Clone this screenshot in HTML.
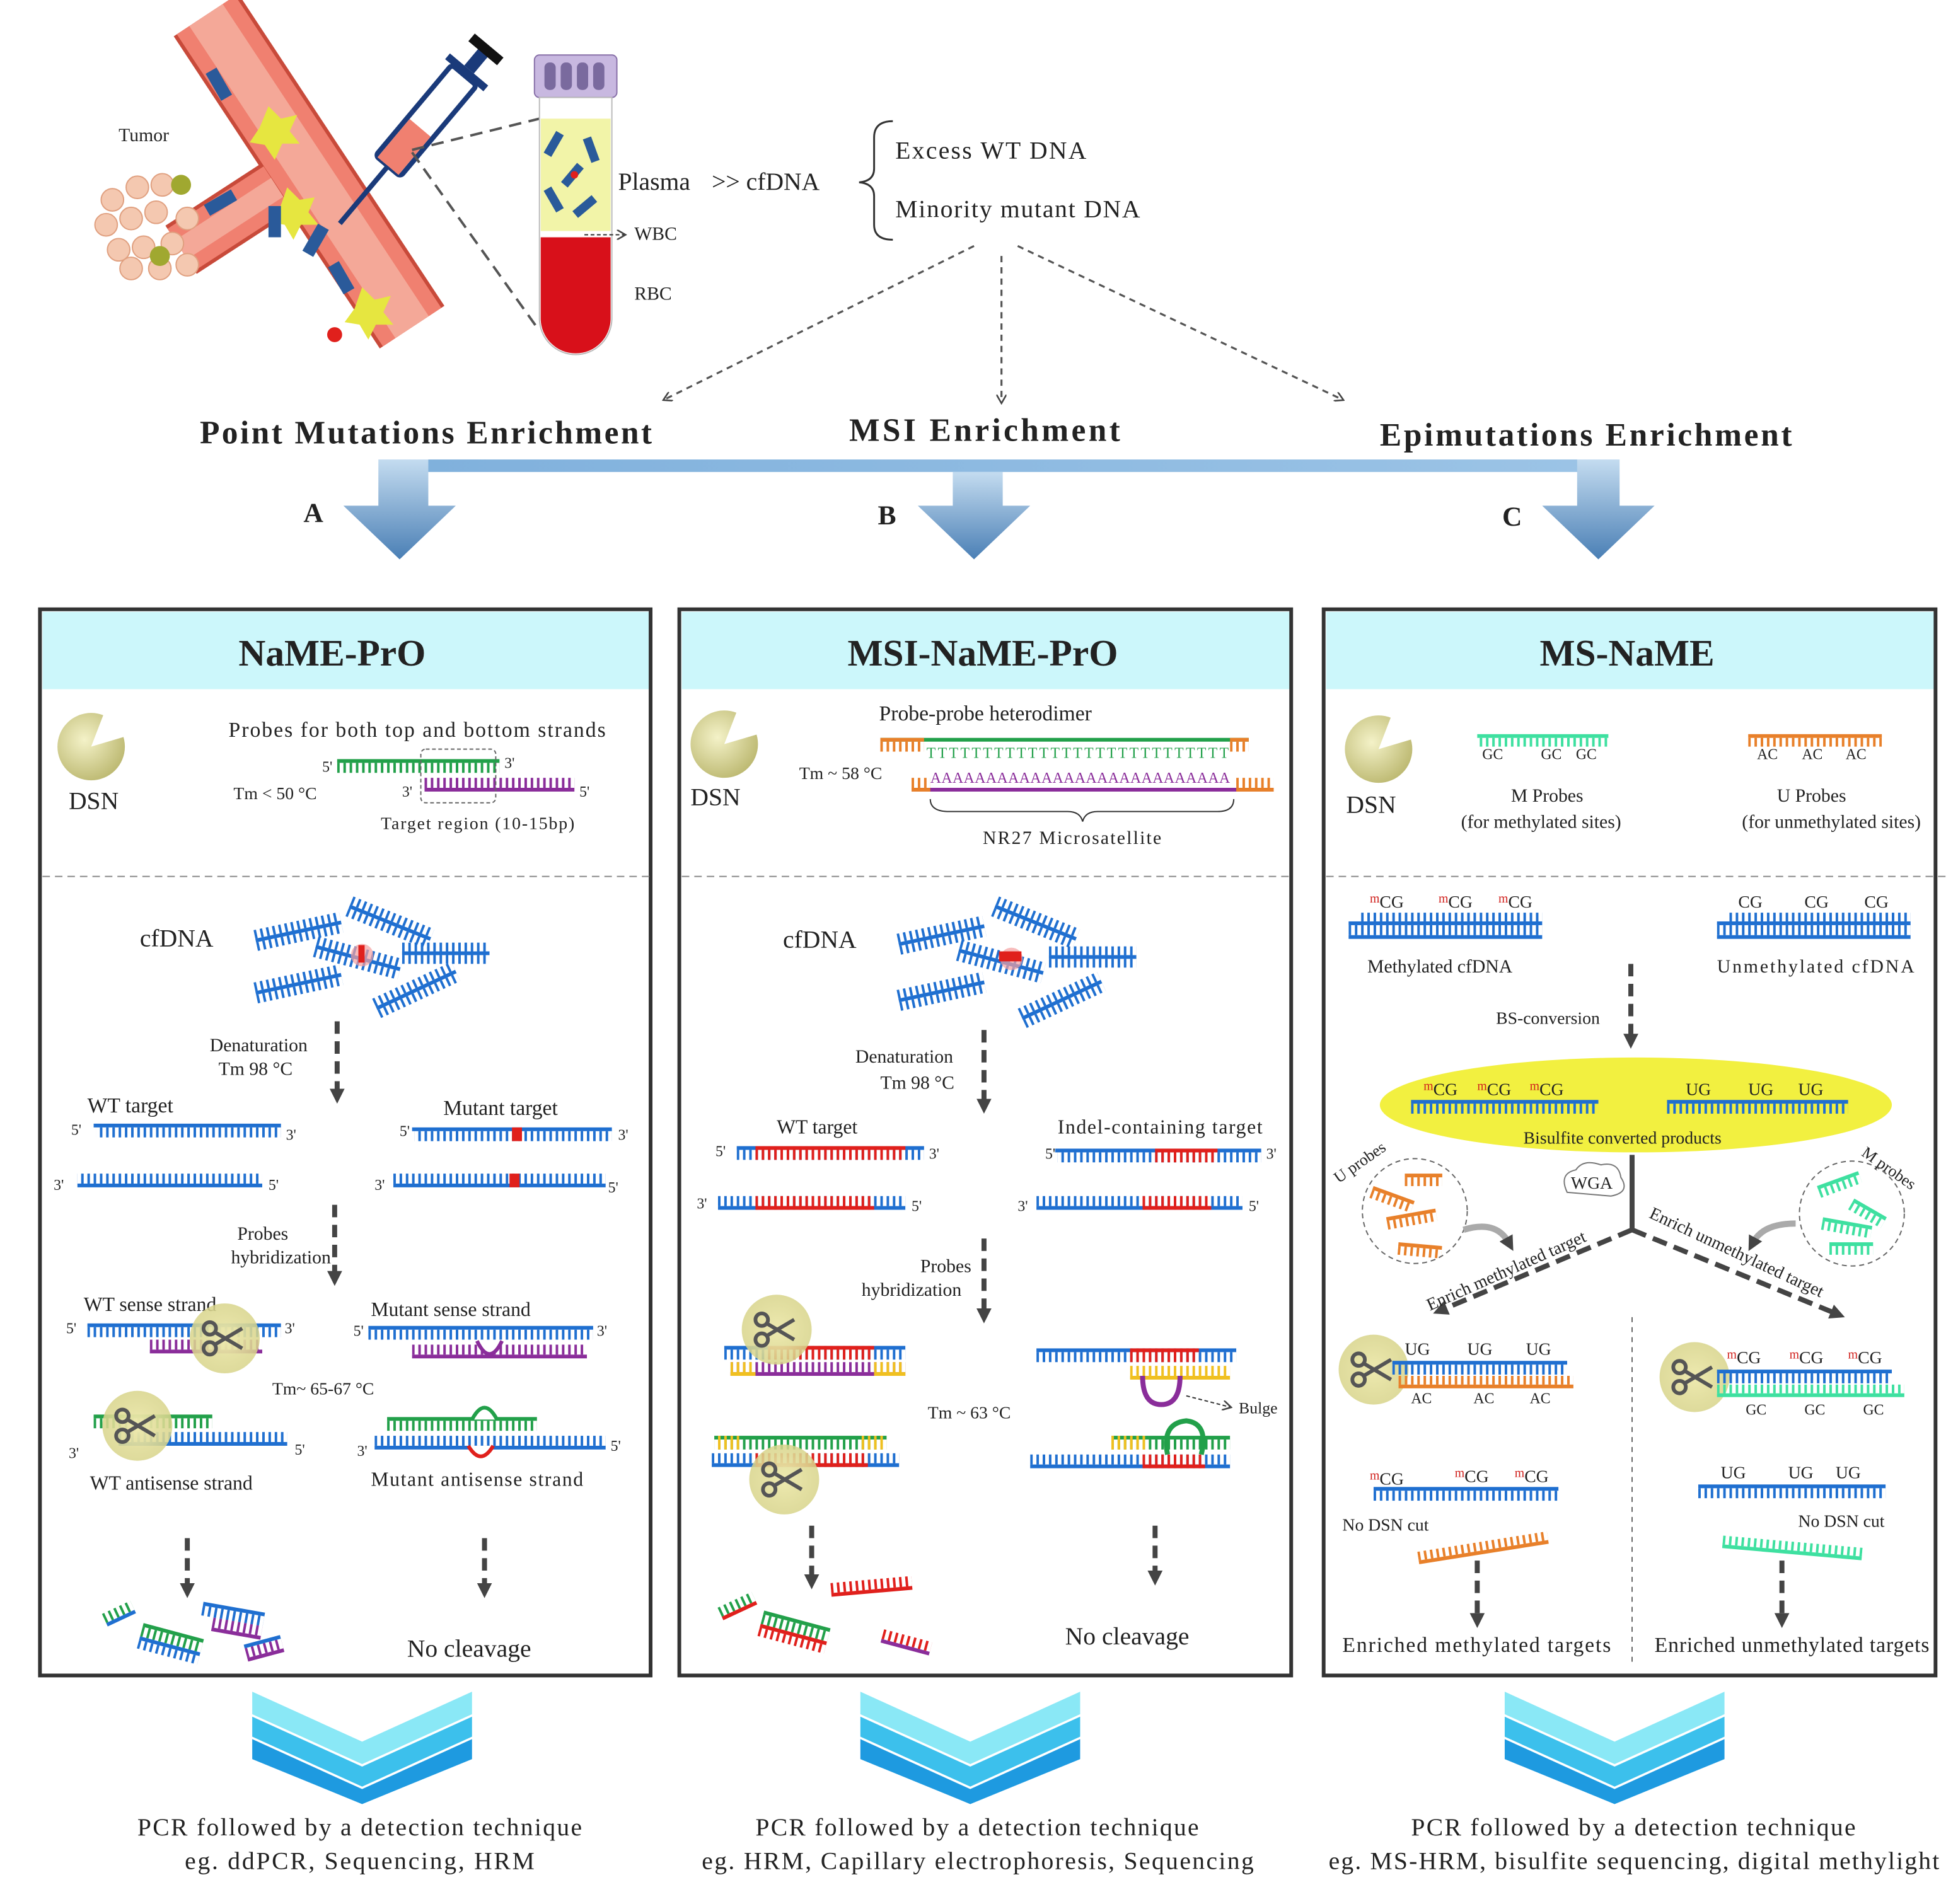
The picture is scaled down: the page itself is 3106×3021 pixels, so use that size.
<!DOCTYPE html>
<html><head><meta charset="utf-8"><style>
html,body{margin:0;padding:0;background:#fff;}
svg{display:block;}
text{font-family:"Liberation Serif",serif;fill:#222;}
.b{font-weight:bold;}
</style></head><body>
<svg width="3106" height="3021" viewBox="0 0 1568 1525" xmlns="http://www.w3.org/2000/svg">
<defs>
<pattern id="pB" width="5" height="10" patternUnits="userSpaceOnUse"><rect width="2" height="10" fill="#1f6fd0"/></pattern>
<pattern id="pR" width="5" height="10" patternUnits="userSpaceOnUse"><rect width="2" height="10" fill="#e0201c"/></pattern>
<pattern id="pG" width="5" height="10" patternUnits="userSpaceOnUse"><rect width="2" height="10" fill="#22a04a"/></pattern>
<pattern id="pP" width="5" height="10" patternUnits="userSpaceOnUse"><rect width="2" height="10" fill="#8a2d9a"/></pattern>
<pattern id="pO" width="5" height="10" patternUnits="userSpaceOnUse"><rect width="2" height="10" fill="#e8802a"/></pattern>
<pattern id="pY" width="5" height="10" patternUnits="userSpaceOnUse"><rect width="2" height="10" fill="#f0c020"/></pattern>
<pattern id="pM" width="5" height="10" patternUnits="userSpaceOnUse"><rect width="2" height="10" fill="#3ee0a0"/></pattern>
<linearGradient id="arr" x1="0" y1="0" x2="0" y2="1"><stop offset="0" stop-color="#c4dcf0"/><stop offset="1" stop-color="#4a7fb5"/></linearGradient>
<linearGradient id="arrh" x1="0" y1="0" x2="1" y2="0"><stop offset="0" stop-color="#7fb0dc"/><stop offset="1" stop-color="#9cc4e6"/></linearGradient>
<radialGradient id="dsn" cx="0.4" cy="0.4" r="0.7"><stop offset="0" stop-color="#f4f2c8"/><stop offset="1" stop-color="#b8b46a"/></radialGradient>
<radialGradient id="sc" cx="0.5" cy="0.5" r="0.5"><stop offset="0" stop-color="#eeeab0"/><stop offset="1" stop-color="#d8d48a" stop-opacity="0.85"/></radialGradient>
<g id="cf"><rect x="0" y="0" width="70" height="7" fill="url(#pB)"/><rect x="0" y="7" width="70" height="3" fill="#1f6fd0"/><rect x="0" y="10" width="70" height="7" fill="url(#pB)"/></g>
<g id="pac"><circle r="27" fill="url(#dsn)"/><path d="M0,0 L27,-8 A28,28 0 0 0 10,-26 Z" fill="#fff"/></g>
<g id="scis"><circle r="28" fill="url(#sc)"/><g stroke="#555" stroke-width="3" fill="none"><circle cx="-12" cy="-8" r="5"/><circle cx="-12" cy="8" r="5"/><line x1="-8" y1="-5" x2="14" y2="8"/><line x1="-8" y1="5" x2="14" y2="-8"/></g></g>
<marker id="ah" markerWidth="8" markerHeight="8" refX="6" refY="4" orient="auto" markerUnits="userSpaceOnUse"><path d="M0,0 L7,4 L0,8" fill="none" stroke="#444" stroke-width="1.3"/></marker>
<marker id="ahf" markerWidth="14" markerHeight="14" refX="4" refY="7" orient="auto" markerUnits="userSpaceOnUse"><path d="M0,1 L12,7 L0,13 Z" fill="#444"/></marker>
<g id="chev"><polygon points="-88,0 0,40 88,0 88,18 0,58 -88,18" fill="#8ae8f6"/><polygon points="-88,20 0,60 88,20 88,36 0,76 -88,36" fill="#3cc0ec"/><polygon points="-88,38 0,78 88,38 88,54 0,90 -88,54" fill="#1e9ae0"/></g>
</defs>

<!-- ===== TOP ILLUSTRATION ===== -->
<g>
<path d="M165,12 Q230,110 330,262" stroke="#c84a3a" stroke-width="62" fill="none"/>
<path d="M165,12 Q230,110 330,262" stroke="#f08070" stroke-width="56" fill="none"/>
<path d="M165,12 Q230,110 330,262" stroke="#f4a898" stroke-width="32" fill="none"/>
<path d="M145,200 L222,150" stroke="#c84a3a" stroke-width="46" fill="none"/>
<path d="M145,200 L222,150" stroke="#f08070" stroke-width="40" fill="none"/>
<path d="M145,200 L222,150" stroke="#f4a898" stroke-width="18" fill="none"/>
<polygon points="215,85 225,95 238,92 232,105 240,115 226,115 220,128 212,116 200,114 208,102" fill="#e6e640"/>
<polygon points="230,150 240,160 252,158 247,170 255,180 241,180 235,192 228,180 216,178 224,167" fill="#e6e640"/>
<polygon points="290,230 300,240 313,237 307,250 315,260 301,260 295,272 288,260 276,258 284,247" fill="#e6e640"/>
<g fill="#2a5a9a"><rect x="170" y="55" width="10" height="25" transform="rotate(-30 175 67)"/><rect x="215" y="165" width="10" height="25"/><rect x="172" y="150" width="10" height="25" transform="rotate(60 177 162)"/><rect x="248" y="180" width="10" height="25" transform="rotate(30 253 192)"/><rect x="268" y="210" width="10" height="25" transform="rotate(-30 273 222)"/></g>
<circle cx="268" cy="268" r="6" fill="#e0201c"/>
<g fill="#f4c8b0" stroke="#e0a080">
<circle cx="90" cy="160" r="9"/><circle cx="110" cy="150" r="9"/><circle cx="130" cy="148" r="9"/><circle cx="85" cy="180" r="9"/><circle cx="105" cy="175" r="9"/><circle cx="125" cy="170" r="9"/><circle cx="95" cy="200" r="9"/><circle cx="115" cy="198" r="9"/><circle cx="138" cy="195" r="9"/><circle cx="105" cy="215" r="9"/><circle cx="128" cy="215" r="9"/><circle cx="150" cy="212" r="9"/><circle cx="150" cy="175" r="9"/></g>
<circle cx="145" cy="148" r="8" fill="#a0a830"/><circle cx="128" cy="205" r="8" fill="#a0a830"/>
<text x="95" y="113" font-size="15">Tumor</text>
<!-- syringe -->
<g transform="rotate(-50 330 110)">
<rect x="300" y="97" width="95" height="26" rx="3" fill="#fff" stroke="#1a3a7a" stroke-width="4"/>
<rect x="300" y="99" width="40" height="22" fill="#f08070"/>
<line x1="300" y1="110" x2="240" y2="110" stroke="#1a3a7a" stroke-width="4"/>
<rect x="395" y="90" width="6" height="40" fill="#1a3a7a"/><rect x="401" y="105" width="20" height="10" fill="#1a3a7a"/><rect x="418" y="95" width="8" height="30" fill="#111"/>
</g>
<line x1="330" y1="120" x2="432" y2="95" stroke="#555" stroke-width="2" stroke-dasharray="10,6"/>
<line x1="330" y1="122" x2="432" y2="265" stroke="#555" stroke-width="2" stroke-dasharray="10,6"/>
<!-- tube -->
<rect x="428" y="44" width="66" height="34" rx="4" fill="#c8b8e0" stroke="#8870a8"/>
<g fill="#7a6a9e"><rect x="436" y="50" width="9" height="22" rx="4"/><rect x="449" y="50" width="9" height="22" rx="4"/><rect x="462" y="50" width="9" height="22" rx="4"/><rect x="475" y="50" width="9" height="22" rx="4"/></g>
<path d="M432,78 L490,78 L490,255 A29,29 0 0 1 432,255 Z" fill="#fff" stroke="#bbb"/>
<path d="M433,95 L489,95 L489,185 L433,185 Z" fill="#f2f4a8"/>
<path d="M433,190 L489,190 L489,255 A28,28 0 0 1 433,255 Z" fill="#d8101a"/>
<g fill="#2a5a9a"><rect x="440" y="105" width="7" height="20" transform="rotate(30 443 115)"/><rect x="470" y="110" width="7" height="20" transform="rotate(-20 473 120)"/><rect x="455" y="130" width="7" height="20" transform="rotate(40 458 140)"/><rect x="440" y="150" width="7" height="20" transform="rotate(-30 443 160)"/><rect x="465" y="155" width="7" height="20" transform="rotate(50 468 165)"/></g>
<circle cx="460" cy="140" r="3" fill="#e0201c"/>
<text x="495" y="152" font-size="20">Plasma</text>
<text x="570" y="152" font-size="20">&gt;&gt; cfDNA</text>
<line x1="468" y1="188" x2="500" y2="188" stroke="#333" stroke-dasharray="3,2" marker-end="url(#ah)"/>
<text x="508" y="192" font-size="15">WBC</text>
<text x="508" y="240" font-size="15">RBC</text>
<path d="M715,97 Q700,97 700,110 L700,135 Q700,145 688,146 Q700,147 700,157 L700,180 Q700,192 715,192" fill="none" stroke="#333" stroke-width="1.5"/>
<text x="717" y="127" font-size="20" textLength="153">Excess WT DNA</text>
<text x="717" y="174" font-size="20" textLength="196">Minority  mutant DNA</text>
</g>
<g stroke="#555" stroke-width="1.6" stroke-dasharray="5,4" fill="none">
<line x1="780" y1="197" x2="532" y2="320" marker-end="url(#ah)"/>
<line x1="802" y1="205" x2="802" y2="322" marker-end="url(#ah)"/>
<line x1="815" y1="197" x2="1075" y2="320" marker-end="url(#ah)"/>
</g>
<text x="160" y="355" font-size="26" class="b" textLength="362">Point Mutations Enrichment</text>
<text x="680" y="353" font-size="26" class="b" textLength="217">MSI Enrichment</text>
<text x="1105" y="357" font-size="26" class="b" textLength="330">Epimutations Enrichment</text>
<!-- blue arrows -->
<rect x="305" y="368" width="990" height="10" fill="url(#arrh)"/>
<g fill="url(#arr)">
<path d="M303,368 L343,368 L343,405 L365,405 L320,448 L275,405 L303,405 Z"/>
<path d="M763,378 L803,378 L803,405 L825,405 L780,448 L735,405 L763,405 Z"/>
<path d="M1263,368 L1297,368 L1297,405 L1325,405 L1280,448 L1235,405 L1263,405 Z"/>
</g>
<text x="243" y="418" font-size="22" class="b">A</text>
<text x="703" y="420" font-size="22" class="b">B</text>
<text x="1203" y="421" font-size="22" class="b">C</text>

<!-- ===== PANELS ===== -->
<g>
<rect x="34" y="490" width="486" height="62" fill="#ccf7fb"/>
<rect x="546" y="490" width="487" height="62" fill="#ccf7fb"/>
<rect x="1062" y="490" width="487" height="62" fill="#ccf7fb"/>
<g fill="none" stroke="#333" stroke-width="3"><rect x="32" y="488" width="489" height="854"/><rect x="544" y="488" width="490" height="854"/><rect x="1060" y="488" width="490" height="854"/></g>
<g stroke="#888" stroke-dasharray="6,4"><line x1="34" y1="702" x2="520" y2="702"/><line x1="546" y1="702" x2="1033" y2="702"/><line x1="1062" y1="702" x2="1558" y2="702"/></g>
<text x="266" y="533" font-size="30" class="b" text-anchor="middle">NaME-PrO</text>
<text x="787" y="533" font-size="30" class="b" text-anchor="middle">MSI-NaME-PrO</text>
<text x="1303" y="533" font-size="30" class="b" text-anchor="middle">MS-NaME</text>
</g>

<!-- Panel A -->
<g font-size="16">
<use href="#pac" x="73" y="598"/>
<text x="55" y="648" font-size="20">DSN</text>
<text x="183" y="590" font-size="17" textLength="302">Probes for both top and bottom  strands</text>
<text x="258" y="618" font-size="12">5'</text><rect x="270" y="608" width="130" height="3" fill="#22a04a"/><rect x="270" y="611" width="130" height="8" fill="url(#pG)"/><text x="404" y="615" font-size="12">3'</text>
<text x="322" y="638" font-size="12">3'</text><rect x="340" y="623" width="120" height="8" fill="url(#pP)"/><rect x="340" y="631" width="120" height="3" fill="#8a2d9a"/><text x="464" y="638" font-size="12">5'</text>
<rect x="337" y="600" width="60" height="43" fill="none" stroke="#666" stroke-dasharray="3,2" rx="4"/>
<text x="187" y="640" font-size="14">Tm &lt; 50 °C</text>
<text x="305" y="664" font-size="14" textLength="155">Target region (10-15bp)</text>

<text x="112" y="758" font-size="20">cfDNA</text>
<use href="#cf" transform="translate(283,718) rotate(22)"/>
<use href="#cf" transform="translate(203,745) rotate(-12)"/>
<use href="#cf" transform="translate(255,750) rotate(15)"/>
<use href="#cf" transform="translate(322,755)"/>
<use href="#cf" transform="translate(203,787) rotate(-12)"/>
<use href="#cf" transform="translate(298,800) rotate(-25)"/>
<circle cx="290" cy="765" r="9" fill="#f4a0a0" opacity="0.7"/><rect x="287" y="757" width="5" height="14" fill="#e0201c"/>
<text x="168" y="842" font-size="15">Denaturation</text><text x="175" y="861" font-size="15">Tm 98 °C</text>
<line x1="270" y1="818" x2="270" y2="876" stroke="#444" stroke-width="4" stroke-dasharray="10,6" marker-end="url(#ahf)"/>
<text x="70" y="891" font-size="17">WT target</text>
<text x="57" y="909" font-size="12">5'</text><rect x="75" y="900" width="150" height="3" fill="#1f6fd0"/><rect x="77" y="903" width="148" height="8" fill="url(#pB)"/><text x="229" y="913" font-size="12">3'</text>
<text x="43" y="953" font-size="12">3'</text><rect x="62" y="940" width="148" height="8" fill="url(#pB)"/><rect x="62" y="948" width="148" height="3" fill="#1f6fd0"/><text x="215" y="953" font-size="12">5'</text>
<text x="355" y="893" font-size="17">Mutant target</text>
<text x="320" y="910" font-size="12">5'</text><rect x="330" y="903" width="160" height="3" fill="#1f6fd0"/><rect x="332" y="906" width="158" height="8" fill="url(#pB)"/><rect x="410" y="903" width="8" height="11" fill="#e0201c"/><text x="495" y="913" font-size="12">3'</text>
<text x="300" y="953" font-size="12">3'</text><rect x="315" y="940" width="170" height="8" fill="url(#pB)"/><rect x="315" y="948" width="170" height="3" fill="#1f6fd0"/><rect x="408" y="940" width="8" height="11" fill="#e0201c"/><text x="487" y="955" font-size="12">5'</text>
<text x="190" y="993" font-size="15">Probes</text><text x="185" y="1012" font-size="15">hybridization</text>
<line x1="268" y1="965" x2="268" y2="1022" stroke="#444" stroke-width="4" stroke-dasharray="10,6" marker-end="url(#ahf)"/>
<text x="67" y="1050" font-size="16">WT sense strand</text>
<text x="53" y="1068" font-size="12">5'</text><rect x="70" y="1060" width="155" height="3" fill="#1f6fd0"/><rect x="70" y="1063" width="155" height="8" fill="url(#pB)"/><text x="228" y="1068" font-size="12">3'</text>
<rect x="120" y="1073" width="90" height="8" fill="url(#pP)"/><rect x="120" y="1081" width="90" height="3" fill="#8a2d9a"/>
<use href="#scis" x="180" y="1072"/>
<text x="297" y="1054" font-size="16">Mutant sense strand</text>
<text x="283" y="1070" font-size="12">5'</text><rect x="295" y="1062" width="180" height="3" fill="#1f6fd0"/><rect x="295" y="1065" width="180" height="8" fill="url(#pB)"/><text x="478" y="1070" font-size="12">3'</text>
<rect x="330" y="1077" width="140" height="8" fill="url(#pP)"/><rect x="330" y="1085" width="140" height="3" fill="#8a2d9a"/>
<path d="M382,1074 Q392,1095 402,1074" fill="#fff" stroke="#8a2d9a" stroke-width="3"/>
<text x="218" y="1117" font-size="14">Tm~ 65-67 °C</text>
<rect x="75" y="1133" width="95" height="3" fill="#22a04a"/><rect x="75" y="1136" width="95" height="8" fill="url(#pG)"/>
<rect x="95" y="1147" width="135" height="8" fill="url(#pB)"/><rect x="95" y="1155" width="135" height="3" fill="#1f6fd0"/>
<text x="55" y="1168" font-size="12">3'</text><text x="236" y="1165" font-size="12">5'</text>
<use href="#scis" x="110" y="1142"/>
<rect x="310" y="1135" width="120" height="3" fill="#22a04a"/><rect x="310" y="1138" width="120" height="8" fill="url(#pG)"/>
<path d="M378,1137 Q388,1118 398,1137" fill="#fff" stroke="#22a04a" stroke-width="3"/>
<rect x="300" y="1150" width="185" height="8" fill="url(#pB)"/><rect x="300" y="1158" width="185" height="3" fill="#1f6fd0"/>
<path d="M375,1158 Q385,1175 395,1158" fill="#fff" stroke="#e0201c" stroke-width="3"/>
<text x="286" y="1166" font-size="12">3'</text><text x="489" y="1162" font-size="12">5'</text>
<text x="72" y="1193" font-size="16">WT antisense strand</text>
<text x="297" y="1190" font-size="16" textLength="170">Mutant antisense strand</text>
<line x1="150" y1="1232" x2="150" y2="1272" stroke="#444" stroke-width="4" stroke-dasharray="10,6" marker-end="url(#ahf)"/>
<line x1="388" y1="1232" x2="388" y2="1272" stroke="#444" stroke-width="4" stroke-dasharray="10,6" marker-end="url(#ahf)"/>
<g transform="translate(85,1300) rotate(-25)"><rect width="25" height="3" fill="#1f6fd0"/><rect y="-8" width="25" height="8" fill="url(#pG)"/></g>
<g transform="translate(115,1300) rotate(15)"><rect width="50" height="3" fill="#22a04a"/><rect y="3" width="50" height="8" fill="url(#pG)"/><rect y="11" width="50" height="3" fill="#1f6fd0"/><rect y="14" width="50" height="7" fill="url(#pB)"/></g>
<g transform="translate(163,1283) rotate(10)"><rect width="50" height="3" fill="#1f6fd0"/><rect y="3" width="50" height="8" fill="url(#pB)"/><rect x="10" y="11" width="40" height="8" fill="url(#pP)"/><rect x="10" y="19" width="40" height="3" fill="#8a2d9a"/></g>
<g transform="translate(198,1328) rotate(-15)"><rect width="30" height="3" fill="#8a2d9a"/><rect y="-8" width="30" height="8" fill="url(#pP)"/><rect y="-11" width="30" height="3" fill="#1f6fd0"/></g>
<text x="326" y="1327" font-size="20">No cleavage</text>
</g>

<!-- Panel B -->
<g font-size="16">
<use href="#pac" x="580" y="596"/>
<text x="553" y="645" font-size="20">DSN</text>
<text x="704" y="577" font-size="17">Probe-probe heterodimer</text>
<rect x="705" y="591" width="295" height="3" fill="#22a04a"/><rect x="705" y="591" width="35" height="3" fill="#e8802a"/><rect x="985" y="591" width="15" height="3" fill="#e8802a"/>
<rect x="705" y="594" width="35" height="8" fill="url(#pO)"/><rect x="985" y="594" width="15" height="8" fill="url(#pO)"/>
<text x="742" y="607" font-size="12" style="fill:#22a04a" textLength="242">TTTTTTTTTTTTTTTTTTTTTTTTTTT</text>
<text x="745" y="627" font-size="12" style="fill:#8a2d9a" textLength="240">AAAAAAAAAAAAAAAAAAAAAAAAAAA</text>
<rect x="730" y="623" width="15" height="8" fill="url(#pO)"/><rect x="990" y="623" width="30" height="8" fill="url(#pO)"/>
<rect x="730" y="631" width="290" height="3" fill="#8a2d9a"/><rect x="730" y="631" width="15" height="3" fill="#e8802a"/><rect x="990" y="631" width="30" height="3" fill="#e8802a"/>
<text x="640" y="624" font-size="14">Tm ~ 58 °C</text>
<path d="M745,640 Q745,650 760,650 L855,650 Q865,650 867,658 Q869,650 879,650 L975,650 Q988,650 988,640" fill="none" stroke="#333"/>
<text x="787" y="676" font-size="15" textLength="143">NR27 Microsatellite</text>
<text x="627" y="759" font-size="20">cfDNA</text>
<use href="#cf" transform="translate(800,718) rotate(22)"/>
<use href="#cf" transform="translate(718,748) rotate(-12)"/>
<use href="#cf" transform="translate(770,753) rotate(15)"/>
<use href="#cf" transform="translate(840,758)"/>
<use href="#cf" transform="translate(718,793) rotate(-12)"/>
<use href="#cf" transform="translate(815,808) rotate(-25)"/>
<circle cx="810" cy="768" r="9" fill="#f4a0a0" opacity="0.7"/><rect x="800" y="762" width="18" height="8" fill="#e0201c"/>
<text x="685" y="851" font-size="15">Denaturation</text><text x="705" y="872" font-size="15">Tm 98 °C</text>
<line x1="788" y1="825" x2="788" y2="884" stroke="#444" stroke-width="4" stroke-dasharray="10,6" marker-end="url(#ahf)"/>
<text x="622" y="908" font-size="16">WT target</text>
<text x="573" y="926" font-size="12">5'</text><rect x="590" y="918" width="150" height="3" fill="#1f6fd0"/><rect x="590" y="921" width="150" height="8" fill="url(#pB)"/><rect x="605" y="918" width="120" height="11" fill="url(#pR)"/><rect x="605" y="918" width="120" height="3" fill="#e0201c"/><text x="744" y="928" font-size="12">3'</text>
<text x="558" y="968" font-size="12">3'</text><rect x="575" y="958" width="150" height="8" fill="url(#pB)"/><rect x="575" y="966" width="150" height="3" fill="#1f6fd0"/><rect x="605" y="958" width="95" height="11" fill="url(#pR)"/><rect x="605" y="966" width="95" height="3" fill="#e0201c"/><text x="730" y="970" font-size="12">5'</text>
<text x="847" y="908" font-size="16" textLength="164">Indel-containing  target</text>
<text x="837" y="928" font-size="12">5'</text><rect x="845" y="920" width="165" height="3" fill="#1f6fd0"/><rect x="847" y="923" width="163" height="8" fill="url(#pB)"/><rect x="925" y="920" width="50" height="11" fill="url(#pR)"/><rect x="925" y="920" width="50" height="3" fill="#e0201c"/><text x="1014" y="928" font-size="12">3'</text>
<text x="815" y="970" font-size="12">3'</text><rect x="830" y="958" width="165" height="8" fill="url(#pB)"/><rect x="830" y="966" width="165" height="3" fill="#1f6fd0"/><rect x="915" y="958" width="55" height="11" fill="url(#pR)"/><rect x="915" y="966" width="55" height="3" fill="#e0201c"/><text x="1000" y="970" font-size="12">5'</text>
<text x="737" y="1019" font-size="15">Probes</text><text x="690" y="1038" font-size="15">hybridization</text>
<line x1="788" y1="992" x2="788" y2="1052" stroke="#444" stroke-width="4" stroke-dasharray="10,6" marker-end="url(#ahf)"/>
<rect x="580" y="1078" width="145" height="3" fill="#1f6fd0"/><rect x="580" y="1081" width="145" height="8" fill="url(#pB)"/><rect x="615" y="1078" width="85" height="11" fill="url(#pR)"/><rect x="615" y="1078" width="85" height="3" fill="#e0201c"/>
<rect x="585" y="1091" width="140" height="8" fill="url(#pP)"/><rect x="585" y="1099" width="140" height="3" fill="#8a2d9a"/><rect x="585" y="1091" width="20" height="11" fill="url(#pY)"/><rect x="700" y="1091" width="25" height="11" fill="url(#pY)"/><rect x="585" y="1099" width="20" height="3" fill="#f0c020"/><rect x="700" y="1099" width="25" height="3" fill="#f0c020"/>
<use href="#scis" x="622" y="1065"/>
<rect x="572" y="1150" width="138" height="3" fill="#22a04a"/><rect x="572" y="1153" width="138" height="8" fill="url(#pG)"/><rect x="572" y="1150" width="20" height="11" fill="url(#pY)"/><rect x="690" y="1150" width="20" height="11" fill="url(#pY)"/>
<rect x="570" y="1164" width="150" height="8" fill="url(#pB)"/><rect x="570" y="1172" width="150" height="3" fill="#1f6fd0"/><rect x="605" y="1164" width="90" height="11" fill="url(#pR)"/><rect x="605" y="1172" width="90" height="3" fill="#e0201c"/>
<use href="#scis" x="628" y="1185"/>
<text x="743" y="1136" font-size="14">Tm ~ 63 °C</text>
<rect x="830" y="1080" width="160" height="3" fill="#1f6fd0"/><rect x="830" y="1083" width="160" height="8" fill="url(#pB)"/><rect x="905" y="1080" width="55" height="11" fill="url(#pR)"/><rect x="905" y="1080" width="55" height="3" fill="#e0201c"/>
<rect x="905" y="1094" width="80" height="8" fill="url(#pY)"/><rect x="905" y="1102" width="80" height="3" fill="#f0c020"/>
<path d="M915,1102 Q915,1125 930,1125 Q945,1125 945,1102" fill="none" stroke="#8a2d9a" stroke-width="4"/>
<path d="M935,1165 Q930,1140 950,1138 Q968,1140 962,1165" fill="none" stroke="#22a04a" stroke-width="4"/>
<rect x="890" y="1150" width="95" height="3" fill="#22a04a"/><rect x="890" y="1153" width="95" height="8" fill="url(#pG)"/><rect x="890" y="1150" width="30" height="11" fill="url(#pY)"/>
<rect x="825" y="1165" width="160" height="8" fill="url(#pB)"/><rect x="825" y="1173" width="160" height="3" fill="#1f6fd0"/><rect x="915" y="1165" width="50" height="11" fill="url(#pR)"/><rect x="915" y="1173" width="50" height="3" fill="#e0201c"/>
<line x1="950" y1="1118" x2="985" y2="1127" stroke="#333" stroke-dasharray="3,2" marker-end="url(#ah)"/>
<text x="992" y="1132" font-size="13">Bulge</text>
<line x1="650" y1="1222" x2="650" y2="1265" stroke="#444" stroke-width="4" stroke-dasharray="10,6" marker-end="url(#ahf)"/>
<line x1="925" y1="1222" x2="925" y2="1262" stroke="#444" stroke-width="4" stroke-dasharray="10,6" marker-end="url(#ahf)"/>
<g transform="translate(578,1295) rotate(-25)"><rect width="30" height="3" fill="#e0201c"/><rect y="-8" width="30" height="8" fill="url(#pG)"/></g>
<g transform="translate(612,1290) rotate(15)"><rect width="55" height="3" fill="#22a04a"/><rect y="3" width="55" height="8" fill="url(#pG)"/><rect y="11" width="55" height="3" fill="#e0201c"/><rect y="14" width="55" height="7" fill="url(#pR)"/></g>
<g transform="translate(665,1268) rotate(-5)"><rect width="65" height="8" fill="url(#pR)"/><rect y="8" width="65" height="3" fill="#e0201c"/></g>
<g transform="translate(708,1305) rotate(15)"><rect width="40" height="8" fill="url(#pR)"/><rect y="8" width="40" height="3" fill="#8a2d9a"/></g>
<text x="853" y="1317" font-size="20">No cleavage</text>
</g>

<!-- Panel C -->
<g font-size="15">
<use href="#pac" x="1104" y="600"/>
<text x="1078" y="651" font-size="20">DSN</text>
<rect x="1183" y="588" width="105" height="3" fill="#3ee0a0"/><rect x="1183" y="591" width="105" height="7" fill="url(#pM)"/>
<text x="1187" y="608" font-size="12">GC</text><text x="1234" y="608" font-size="12">GC</text><text x="1262" y="608" font-size="12">GC</text>
<rect x="1400" y="588" width="107" height="3" fill="#e8802a"/><rect x="1400" y="591" width="107" height="7" fill="url(#pO)"/>
<text x="1407" y="608" font-size="12">AC</text><text x="1443" y="608" font-size="12">AC</text><text x="1478" y="608" font-size="12">AC</text>
<text x="1210" y="642">M Probes</text><text x="1170" y="663">(for methylated sites)</text>
<text x="1423" y="642">U Probes</text><text x="1395" y="663">(for unmethylated sites)</text>
<g font-size="14"><text x="1097" y="727"><tspan style="fill:#d0201c" font-size="10" dy="-4">m</tspan><tspan dy="4">CG</tspan></text><text x="1152" y="727"><tspan style="fill:#d0201c" font-size="10" dy="-4">m</tspan><tspan dy="4">CG</tspan></text><text x="1200" y="727"><tspan style="fill:#d0201c" font-size="10" dy="-4">m</tspan><tspan dy="4">CG</tspan></text></g>
<rect x="1090" y="731" width="145" height="7" fill="url(#pB)"/><rect x="1080" y="738" width="155" height="3" fill="#1f6fd0"/><rect x="1080" y="741" width="155" height="8" fill="url(#pB)"/><rect x="1080" y="749" width="155" height="3" fill="#1f6fd0"/>
<text x="1095" y="779">Methylated cfDNA</text>
<text x="1392" y="727" font-size="14">CG</text><text x="1445" y="727" font-size="14">CG</text><text x="1493" y="727" font-size="14">CG</text>
<rect x="1385" y="731" width="145" height="7" fill="url(#pB)"/><rect x="1375" y="738" width="155" height="3" fill="#1f6fd0"/><rect x="1375" y="741" width="155" height="8" fill="url(#pB)"/><rect x="1375" y="749" width="155" height="3" fill="#1f6fd0"/>
<text x="1375" y="779" textLength="158">Unmethylated cfDNA</text>
<line x1="1306" y1="772" x2="1306" y2="832" stroke="#444" stroke-width="4" stroke-dasharray="10,6" marker-end="url(#ahf)"/>
<text x="1198" y="820" font-size="14">BS-conversion</text>
<ellipse cx="1310" cy="885" rx="205" ry="38" fill="#f2f040"/>
<g font-size="14"><text x="1140" y="877"><tspan style="fill:#d0201c" font-size="10" dy="-4">m</tspan><tspan dy="4">CG</tspan></text><text x="1183" y="877"><tspan style="fill:#d0201c" font-size="10" dy="-4">m</tspan><tspan dy="4">CG</tspan></text><text x="1225" y="877"><tspan style="fill:#d0201c" font-size="10" dy="-4">m</tspan><tspan dy="4">CG</tspan></text></g>
<rect x="1130" y="881" width="150" height="3" fill="#1f6fd0"/><rect x="1130" y="884" width="150" height="8" fill="url(#pB)"/>
<text x="1350" y="877" font-size="14">UG</text><text x="1400" y="877" font-size="14">UG</text><text x="1440" y="877" font-size="14">UG</text>
<rect x="1335" y="881" width="145" height="3" fill="#1f6fd0"/><rect x="1335" y="884" width="145" height="8" fill="url(#pB)"/>
<text x="1220" y="916" font-size="14">Bisulfite  converted products</text>
<path d="M1255,955 Q1248,940 1262,937 Q1268,928 1282,933 Q1296,930 1298,943 Q1306,955 1290,958 Z" fill="#fff" stroke="#777"/>
<text x="1258" y="952" font-size="14">WGA</text>
<line x1="1307" y1="925" x2="1307" y2="985" stroke="#444" stroke-width="4"/>
<line x1="1307" y1="985" x2="1155" y2="1049" stroke="#444" stroke-width="4" stroke-dasharray="12,6" marker-end="url(#ahf)"/>
<line x1="1307" y1="985" x2="1470" y2="1052" stroke="#444" stroke-width="4" stroke-dasharray="12,6" marker-end="url(#ahf)"/>
<text transform="translate(1145,1050) rotate(-24)" font-size="14">Enrich methylated target</text>
<text transform="translate(1320,975) rotate(25)" font-size="14">Enrich unmethylated target</text>
<circle cx="1133" cy="970" r="42" fill="none" stroke="#666" stroke-dasharray="4,3"/>
<g transform="translate(1100,950) rotate(20)"><rect width="35" height="3" fill="#e8802a"/><rect y="3" width="35" height="7" fill="url(#pO)"/></g>
<g transform="translate(1110,975) rotate(-10)"><rect width="40" height="3" fill="#e8802a"/><rect y="3" width="40" height="7" fill="url(#pO)"/></g>
<g transform="translate(1120,995) rotate(5)"><rect width="35" height="3" fill="#e8802a"/><rect y="3" width="35" height="7" fill="url(#pO)"/></g>
<g transform="translate(1125,940)"><rect width="30" height="3" fill="#e8802a"/><rect y="3" width="30" height="7" fill="url(#pO)"/></g>
<text transform="translate(1072,948) rotate(-35)" font-size="13">U probes</text>
<circle cx="1483" cy="972" r="42" fill="none" stroke="#666" stroke-dasharray="4,3"/>
<g transform="translate(1455,950) rotate(-20)"><rect width="35" height="3" fill="#3ee0a0"/><rect y="3" width="35" height="7" fill="url(#pM)"/></g>
<g transform="translate(1460,975) rotate(10)"><rect width="40" height="3" fill="#3ee0a0"/><rect y="3" width="40" height="7" fill="url(#pM)"/></g>
<g transform="translate(1465,995)"><rect width="35" height="3" fill="#3ee0a0"/><rect y="3" width="35" height="7" fill="url(#pM)"/></g>
<g transform="translate(1485,960) rotate(30)"><rect width="30" height="3" fill="#3ee0a0"/><rect y="3" width="30" height="7" fill="url(#pM)"/></g>
<text transform="translate(1490,925) rotate(35)" font-size="13">M probes</text>
<path d="M1172,985 Q1198,977 1208,995" fill="none" stroke="#aaa" stroke-width="5" marker-end="url(#ahf)"/>
<path d="M1438,980 Q1412,980 1404,995" fill="none" stroke="#aaa" stroke-width="5" marker-end="url(#ahf)"/>
<line x1="1307" y1="1055" x2="1307" y2="1335" stroke="#666" stroke-dasharray="4,4"/>
<use href="#scis" x="1100" y="1097"/>
<text x="1125" y="1085" font-size="14">UG</text><text x="1175" y="1085" font-size="14">UG</text><text x="1222" y="1085" font-size="14">UG</text>
<rect x="1115" y="1090" width="140" height="3" fill="#1f6fd0"/><rect x="1115" y="1093" width="140" height="8" fill="url(#pB)"/>
<rect x="1120" y="1102" width="140" height="7" fill="url(#pO)"/><rect x="1120" y="1109" width="140" height="3" fill="#e8802a"/>
<text x="1130" y="1124" font-size="12">AC</text><text x="1180" y="1124" font-size="12">AC</text><text x="1225" y="1124" font-size="12">AC</text>
<use href="#scis" x="1357" y="1103"/>
<g font-size="14"><text x="1383" y="1092"><tspan style="fill:#d0201c" font-size="10" dy="-4">m</tspan><tspan dy="4">CG</tspan></text><text x="1433" y="1092"><tspan style="fill:#d0201c" font-size="10" dy="-4">m</tspan><tspan dy="4">CG</tspan></text><text x="1480" y="1092"><tspan style="fill:#d0201c" font-size="10" dy="-4">m</tspan><tspan dy="4">CG</tspan></text></g>
<rect x="1375" y="1097" width="140" height="3" fill="#1f6fd0"/><rect x="1375" y="1100" width="140" height="8" fill="url(#pB)"/>
<rect x="1375" y="1109" width="150" height="7" fill="url(#pM)"/><rect x="1375" y="1116" width="150" height="3" fill="#3ee0a0"/>
<text x="1398" y="1133" font-size="12">GC</text><text x="1445" y="1133" font-size="12">GC</text><text x="1492" y="1133" font-size="12">GC</text>
<g font-size="14"><text x="1097" y="1189"><tspan style="fill:#d0201c" font-size="10" dy="-4">m</tspan><tspan dy="4">CG</tspan></text><text x="1165" y="1187"><tspan style="fill:#d0201c" font-size="10" dy="-4">m</tspan><tspan dy="4">CG</tspan></text><text x="1213" y="1187"><tspan style="fill:#d0201c" font-size="10" dy="-4">m</tspan><tspan dy="4">CG</tspan></text></g>
<rect x="1100" y="1191" width="148" height="3" fill="#1f6fd0"/><rect x="1100" y="1194" width="148" height="8" fill="url(#pB)"/>
<text x="1075" y="1226" font-size="14">No DSN cut</text>
<g transform="translate(1135,1243) rotate(-9)"><rect width="105" height="7" fill="url(#pO)"/><rect y="7" width="105" height="3" fill="#e8802a"/></g>
<line x1="1183" y1="1250" x2="1183" y2="1296" stroke="#444" stroke-width="4" stroke-dasharray="10,6" marker-end="url(#ahf)"/>
<text x="1075" y="1323" font-size="17" textLength="215">Enriched  methylated  targets</text>
<text x="1378" y="1184" font-size="14">UG</text><text x="1432" y="1184" font-size="14">UG</text><text x="1470" y="1184" font-size="14">UG</text>
<rect x="1360" y="1189" width="150" height="3" fill="#1f6fd0"/><rect x="1360" y="1192" width="150" height="8" fill="url(#pB)"/>
<text x="1440" y="1223" font-size="14">No DSN cut</text>
<g transform="translate(1380,1230) rotate(5)"><rect width="112" height="7" fill="url(#pM)"/><rect y="7" width="112" height="3" fill="#3ee0a0"/></g>
<line x1="1427" y1="1250" x2="1427" y2="1296" stroke="#444" stroke-width="4" stroke-dasharray="10,6" marker-end="url(#ahf)"/>
<text x="1325" y="1323" font-size="17" textLength="220">Enriched unmethylated targets</text>
</g>

<!-- bottom -->
<use href="#chev" x="290" y="1355"/>
<use href="#chev" x="777" y="1355"/>
<use href="#chev" x="1293" y="1355"/>
<g font-size="20">
<text x="110" y="1470" textLength="356">PCR followed by a detection technique</text>
<text x="148" y="1497" textLength="280">eg. ddPCR, Sequencing, HRM</text>
<text x="605" y="1470" textLength="355">PCR followed by a detection technique</text>
<text x="562" y="1497" textLength="442">eg. HRM, Capillary  electrophoresis, Sequencing</text>
<text x="1130" y="1470" textLength="356">PCR followed by a detection technique</text>
<text x="1064" y="1497" textLength="489">eg. MS-HRM, bisulfite  sequencing, digital  methylight</text>
</g>
</svg>
</body></html>
